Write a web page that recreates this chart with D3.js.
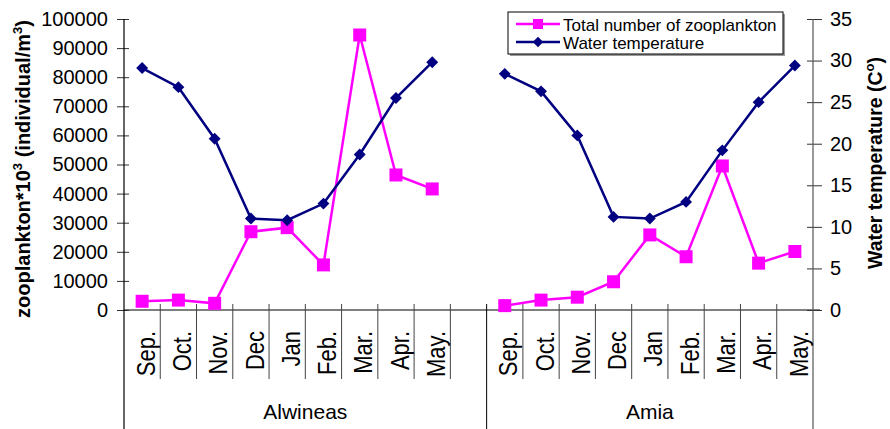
<!DOCTYPE html>
<html>
<head>
<meta charset="utf-8">
<script src="https://cdn.jsdelivr.net/npm/d3@7"></script>
<style>
  body { margin: 0; background: #fff; }
  svg { display: block; font-family: "Liberation Sans", Arial, sans-serif; }
</style>
</head>
<body>
<svg></svg>
<script>
var width = 890;
var height = 429;
var svg = d3.select("svg");
svg.attr('width', width).attr('height', height);

// data
var months = ["Sep.", "Oct.", "Nov.", "Dec", "Jan", "Feb.", "Mar.", "Apr.", "May."];
var sites = ["Alwineas", "Amia"];
var zooAlwineas = [3000, 3400, 2300, 26900, 28300, 15500, 94500, 46400, 41600];
var zooAmia = [1500, 3400, 4400, 9700, 25800, 18300, 49500, 16100, 20100];
var tempAlwineas = [29.1, 26.8, 20.6, 11.0, 10.8, 12.8, 18.7, 25.5, 29.8];
var tempAmia = [28.4, 26.3, 21.0, 11.2, 11.0, 13.0, 19.2, 25.0, 29.4];
var zooTicks = d3.range(0, 100001, 10000);
var tempTicks = d3.range(0, 36, 5);

var plotLeft = 124, plotRight = 813, plotTop = 19, plotBottom = 310;
var pink = '#ff00ff', navy = '#000080';

// categories: 9 months, one empty slot, 9 months
var keys = [];
months.forEach(function(m) { keys.push(sites[0] + '|' + m); });
keys.push('gap');
months.forEach(function(m) { keys.push(sites[1] + '|' + m); });

var xScale = d3.scaleBand().domain(keys).range([plotLeft, plotRight]).padding(0);
var yZoo = d3.scaleLinear().domain([0, 100000]).range([plotBottom, plotTop]);
var yTemp = d3.scaleLinear().domain([0, 35]).range([plotBottom, plotTop]);

function cx(site, m) { return xScale(site + '|' + m) + xScale.bandwidth() / 2; }

// x axis line
svg.append('line')
  .attr('x1', plotLeft).attr('x2', plotRight + 7)
  .attr('y1', plotBottom).attr('y2', plotBottom)
  .attr('stroke', '#000').attr('stroke-width', 1.2);

// category tick lines (month separators)
keys.forEach(function(k, i) {
  if (i === 0) return;
  var x = xScale(k);
  var isGroup = (k === sites[1] + '|' + months[0]);
  svg.append('line')
    .attr('x1', x).attr('x2', x)
    .attr('y1', plotBottom - 6).attr('y2', isGroup ? height : 379)
    .attr('stroke', isGroup ? '#000' : '#444').attr('stroke-width', 1);
});

// left axis
var gLeft = svg.append('g')
  .attr('transform', 'translate(' + plotLeft + ',0)')
  .call(d3.axisLeft(yZoo).tickValues(zooTicks).tickFormat(d3.format('d')).tickSizeOuter(0).tickSize(7).tickPadding(9));
gLeft.select('.domain').remove();
gLeft.selectAll('.tick line').attr('x1', 5).attr('stroke', '#333');
gLeft.selectAll('text').attr('font-size', 20).attr('font-family', '"Liberation Sans", Arial, sans-serif').attr('fill', '#000');
svg.append('line')
  .attr('x1', plotLeft).attr('x2', plotLeft).attr('y1', plotTop).attr('y2', height)
  .attr('stroke', '#000').attr('stroke-width', 1.2);

// right axis
var gRight = svg.append('g')
  .attr('transform', 'translate(' + plotRight + ',0)')
  .call(d3.axisRight(yTemp).tickValues(tempTicks).tickSizeOuter(0).tickSize(9).tickPadding(8));
gRight.select('.domain').remove();
gRight.selectAll('.tick line').attr('x1', -6).attr('stroke', '#333');
gRight.selectAll('text').attr('font-size', 20).attr('font-family', '"Liberation Sans", Arial, sans-serif').attr('fill', '#000');
svg.append('line')
  .attr('x1', plotRight).attr('x2', plotRight).attr('y1', plotTop).attr('y2', height)
  .attr('stroke', '#555').attr('stroke-width', 1.2);

// month labels (a little stretched across, like the original)
sites.forEach(function(s) {
  months.forEach(function(m) {
    svg.append('text')
      .attr('transform', 'translate(' + cx(s, m) + ',331) rotate(-90) scale(1,1.15)')
      .attr('text-anchor', 'end')
      .attr('dy', '0.5em')
      .attr('font-size', 22)
      .text(m);
  });
});

// group labels
var groupSpans = [[plotLeft, xScale(sites[1] + '|' + months[0])], [xScale(sites[1] + '|' + months[0]), plotRight]];
sites.forEach(function(s, i) {
  svg.append('text')
    .attr('x', (groupSpans[i][0] + groupSpans[i][1]) / 2)
    .attr('y', 419)
    .attr('text-anchor', 'middle')
    .attr('font-size', 21)
    .text(s);
});

// axis titles
var lt = svg.append('text')
  .attr('transform', 'translate(30,169) rotate(-90)')
  .attr('text-anchor', 'middle')
  .attr('font-size', 20).attr('font-weight', 'bold');
lt.append('tspan').text('zooplankton*10');
lt.append('tspan').attr('dy', -8).attr('font-size', 13).text('3');
lt.append('tspan').attr('dy', 8).text(' (individual/m');
lt.append('tspan').attr('dy', -8).attr('font-size', 13).text('3');
lt.append('tspan').attr('dy', 8).text(')');

var rt = svg.append('text')
  .attr('transform', 'translate(882,163) rotate(-90)')
  .attr('text-anchor', 'middle')
  .attr('font-size', 19.5).attr('font-weight', 'bold');
rt.append('tspan').text('Water temperature (C');
rt.append('tspan').attr('dy', -8).attr('font-size', 13).text('o');
rt.append('tspan').attr('dy', 8).text(')');

// series
var series = [
  { site: sites[0], values: zooAlwineas, scale: yZoo, color: pink, shape: d3.symbolSquare, size: 169 },
  { site: sites[1], values: zooAmia, scale: yZoo, color: pink, shape: d3.symbolSquare, size: 169 },
  { site: sites[0], values: tempAlwineas, scale: yTemp, color: navy, shape: d3.symbolDiamond2, size: 90 },
  { site: sites[1], values: tempAmia, scale: yTemp, color: navy, shape: d3.symbolDiamond2, size: 90 }
];

series.forEach(function(s) {
  var line = d3.line()
    .x(function(d, i) { return cx(s.site, months[i]); })
    .y(function(d) { return s.scale(d); });
  svg.append('path')
    .attr('d', line(s.values))
    .attr('fill', 'none')
    .attr('stroke', s.color)
    .attr('stroke-width', 2.5);
  svg.selectAll(null)
    .data(s.values)
    .enter()
    .append('path')
    .attr('d', d3.symbol().type(s.shape).size(s.size))
    .attr('transform', function(d, i) {
      return 'translate(' + cx(s.site, months[i]) + ',' + s.scale(d) + ')';
    })
    .attr('fill', s.color);
});

// legend
var legend = svg.append('g');
legend.append('rect')
  .attr('x', 510).attr('y', 14).attr('width', 275).attr('height', 42)
  .attr('fill', '#999');
legend.append('rect')
  .attr('x', 508).attr('y', 12).attr('width', 275).attr('height', 42)
  .attr('fill', '#fff').attr('stroke', '#000').attr('stroke-width', 1);
var legendItems = [
  { label: 'Total number of zooplankton', color: pink, shape: d3.symbolSquare, size: 100, y: 24, ty: 31 },
  { label: 'Water temperature', color: navy, shape: d3.symbolDiamond2, size: 70, y: 42, ty: 49 }
];
legendItems.forEach(function(it) {
  legend.append('line')
    .attr('x1', 516).attr('x2', 560).attr('y1', it.y).attr('y2', it.y)
    .attr('stroke', it.color).attr('stroke-width', 2.5);
  legend.append('path')
    .attr('d', d3.symbol().type(it.shape).size(it.size))
    .attr('transform', 'translate(538,' + it.y + ')')
    .attr('fill', it.color);
  legend.append('text')
    .attr('x', 563).attr('y', it.ty)
    .attr('font-size', 17)
    .text(it.label);
});
</script>
</body>
</html>
